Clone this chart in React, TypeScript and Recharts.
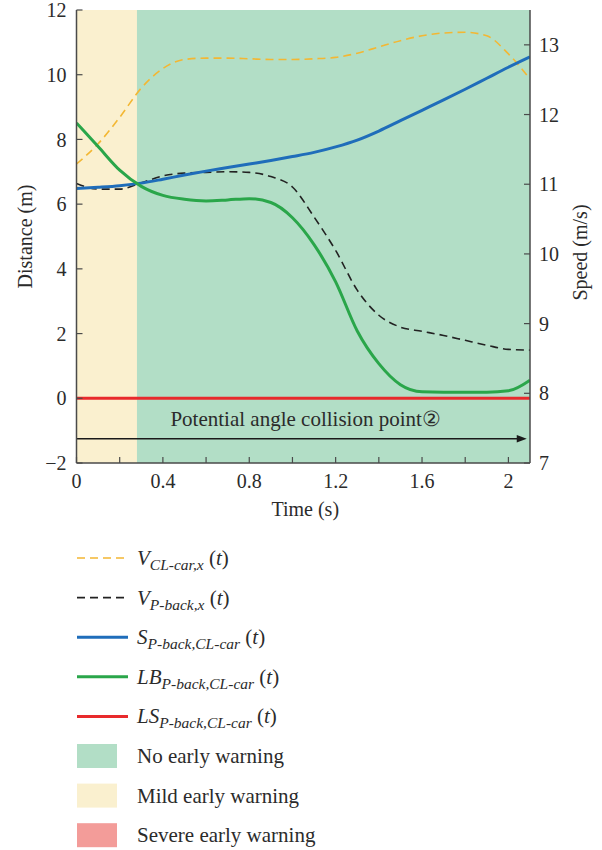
import React from 'react';
import { ComposedChart, Line, XAxis, YAxis, ReferenceArea, ReferenceLine } from 'recharts';

// ---- data ----
const times = [0, 0.1, 0.2, 0.3, 0.4, 0.5, 0.6, 0.7, 0.8, 0.9, 1.0, 1.1, 1.2, 1.3, 1.4, 1.5, 1.6, 1.7, 1.8, 1.9, 2.0, 2.1];
// speeds (m/s), right axis
const vClCar = [11.29, 11.58, 11.96, 12.38, 12.66, 12.79, 12.81, 12.81, 12.8, 12.79, 12.79, 12.8, 12.82, 12.88, 12.97, 13.06, 13.13, 13.17, 13.18, 13.13, 12.87, 12.51];
const vPBack = [11.01, 10.93, 10.93, 11.02, 11.12, 11.16, 11.17, 11.18, 11.17, 11.11, 10.96, 10.53, 10.05, 9.48, 9.12, 8.95, 8.89, 8.83, 8.76, 8.69, 8.63, 8.62];
// distances (m), left axis
const sDist = [6.48, 6.52, 6.57, 6.65, 6.77, 6.9, 7.02, 7.13, 7.24, 7.35, 7.47, 7.6, 7.77, 7.98, 8.26, 8.58, 8.9, 9.22, 9.55, 9.89, 10.23, 10.55];
const lbDist = [8.51, 7.78, 7.05, 6.55, 6.27, 6.15, 6.1, 6.13, 6.17, 6.05, 5.58, 4.75, 3.6, 2.08, 1.07, 0.42, 0.2, 0.19, 0.19, 0.19, 0.23, 0.56];
const lsDist = [0, 0, 0, 0, 0, 0, 0, 0, 0, 0, 0, 0, 0, 0, 0, 0, 0, 0, 0, 0, 0, 0];

const xTicks = [0, 0.2, 0.4, 0.6, 0.8, 1.0, 1.2, 1.4, 1.6, 1.8, 2.0];
const xLabeledTicks = [0, 0.4, 0.8, 1.2, 1.6, 2];
const distTicks = [-2, 0, 2, 4, 6, 8, 10, 12];
const speedTicks = [7, 8, 9, 10, 11, 12, 13];
const timeDomain = [0, 2.1];
const distDomain = [-2, 12];
const speedDomain = [7, 13.5];
const mildStart = 0;
const mildEnd = 0.28;
const arrowLevel = -1.25;
const arrowEnd = 2.085;
const annotationText = 'Potential angle collision point\u2461';

const data = times.map((t, i) => ({
  t,
  vCl: vClCar[i],
  vPb: vPBack[i],
  s: sDist[i],
  lb: lbDist[i],
  ls: lsDist[i],
}));

const FONT = '"Liberation Serif", "DejaVu Serif", serif';
const AXIS_COLOR = '#4a4a4a';
const TEXT_COLOR = '#2b2b2b';

const C_YELLOW = '#F3B733';
const C_BLACK = '#222222';
const C_BLUE = '#1F6DBA';
const C_GREEN = '#2AA64A';
const C_RED = '#E82A2C';
const C_AREA_GREEN = '#B2DEC6';
const C_AREA_YELLOW = '#FAF0CF';
const C_AREA_RED = '#F39C99';

const legendLines = [
  { color: C_YELLOW, dash: '8 5', main: 'V', sub: 'CL-car,x', width: 1.6 },
  { color: C_BLACK, dash: '8 5', main: 'V', sub: 'P-back,x', width: 1.6 },
  { color: C_BLUE, dash: undefined, main: 'S', sub: 'P-back,CL-car', width: 3 },
  { color: C_GREEN, dash: undefined, main: 'LB', sub: 'P-back,CL-car', width: 3 },
  { color: C_RED, dash: undefined, main: 'LS', sub: 'P-back,CL-car', width: 3 },
];
const legendAreas = [
  { color: C_AREA_GREEN, label: 'No early warning' },
  { color: C_AREA_YELLOW, label: 'Mild early warning' },
  { color: C_AREA_RED, label: 'Severe early warning' },
];

const tickStyle = { fill: TEXT_COLOR, fontSize: 20, fontFamily: FONT };

const AnnotationArrow = (props: any) => {
  const { x1, y1, x2, y2 } = props;
  if (x1 == null) return null;
  const head = 10;
  return (
    <g>
      <line x1={x1} y1={y1} x2={x2 - head + 1} y2={y2} stroke="#1a1a1a" strokeWidth={1.3} />
      <polygon points={`${x2},${y2} ${x2 - head},${y2 - 3.8} ${x2 - head},${y2 + 3.8}`} fill="#1a1a1a" />
      <text x={(x1 + x2) / 2 + 4} y={y1 - 12.5} textAnchor="middle" fontFamily={FONT} fontSize={21} fill={TEXT_COLOR}>
        {annotationText}
      </text>
    </g>
  );
};

const fmtX = (v: number) => {
  const r = Math.round(v * 10) / 10;
  return xLabeledTicks.some((k) => Math.abs(k - r) < 1e-6) ? String(r) : '';
};

const Legend = () => {
  const rowStart = 558;
  const rowGap = 39.6;
  return (
    <svg width={602} height={850} style={{ position: 'absolute', left: 0, top: 0, pointerEvents: 'none' }}>
      {legendLines.map((it, i) => {
        const cy = rowStart + i * rowGap;
        return (
          <g key={'l' + i}>
            <line x1={77} x2={it.dash ? 125 : 128} y1={cy} y2={cy} stroke={it.color} strokeWidth={it.width} strokeDasharray={it.dash} />
            <text x={137} y={cy + 7} fontFamily={FONT} fontSize={21} fill={TEXT_COLOR}>
              <tspan fontStyle="italic">{it.main}</tspan>
              <tspan fontStyle="italic" fontSize={15.5} dy={5}>{it.sub}</tspan>
              <tspan dy={-5}>{' ('}</tspan>
              <tspan fontStyle="italic">t</tspan>
              <tspan>)</tspan>
            </text>
          </g>
        );
      })}
      {legendAreas.map((it, i) => {
        const cy = rowStart + (legendLines.length + i) * rowGap;
        return (
          <g key={'a' + i}>
            <rect x={77} y={cy - 12} width={40} height={24} fill={it.color} />
            <text x={137} y={cy + 7} fontFamily={FONT} fontSize={21} fill={TEXT_COLOR}>{it.label}</text>
          </g>
        );
      })}
    </svg>
  );
};

export default function App() {
  return (
    <div style={{ position: 'absolute', left: 0, top: 0, width: 602, height: 850, background: '#fff' }}>
      <ComposedChart width={602} height={530} data={data} margin={{ top: 10, right: 0, bottom: 0, left: 0 }}>
        <ReferenceArea x1={mildStart} x2={mildEnd} yAxisId="left" fill={C_AREA_YELLOW} fillOpacity={1} stroke="none" ifOverflow="hidden" />
        <ReferenceArea x1={mildEnd} x2={timeDomain[1]} yAxisId="left" fill={C_AREA_GREEN} fillOpacity={1} stroke="none" ifOverflow="hidden" />
        <XAxis
          dataKey="t"
          type="number"
          domain={timeDomain}
          ticks={xTicks}
          tickFormatter={fmtX}
          interval={0}
          allowDataOverflow
          height={67}
          tickSize={-6}
          tickMargin={17}
          tick={tickStyle}
          axisLine={{ stroke: AXIS_COLOR, strokeWidth: 1.5 }}
          tickLine={{ stroke: AXIS_COLOR, strokeWidth: 1.2 }}
          label={{
            content: (p: any) => {
              const vb = p.viewBox || { x: 76.5, y: 463, width: 453.5 };
              return (
                <text x={vb.x + vb.width / 2 + 2} y={vb.y + 53} textAnchor="middle" fontFamily={FONT} fontSize={20} fill={TEXT_COLOR}>
                  Time (s)
                </text>
              );
            },
          }}
        />
        <XAxis
          xAxisId="top"
          orientation="top"
          dataKey="t"
          type="number"
          domain={timeDomain}
          ticks={xTicks}
          tickFormatter={() => ''}
          interval={0}
          allowDataOverflow
          height={0}
          tickSize={-6}
          axisLine={{ stroke: AXIS_COLOR, strokeWidth: 1.5 }}
          tickLine={{ stroke: AXIS_COLOR, strokeWidth: 1.2 }}
        />
        <YAxis
          yAxisId="left"
          type="number"
          domain={distDomain}
          ticks={distTicks}
          interval={0}
          allowDataOverflow
          width={76.5}
          tickSize={-6}
          tickMargin={16}
          tick={tickStyle}
          tickFormatter={(v: number) => (v < 0 ? '\u2212' + Math.abs(v) : String(v))}
          axisLine={{ stroke: AXIS_COLOR, strokeWidth: 1.5 }}
          tickLine={{ stroke: AXIS_COLOR, strokeWidth: 1.2 }}
          label={{
            content: (p: any) => {
              const vb = p.viewBox || { x: 0, y: 10, width: 76.5, height: 453 };
              const cx = vb.x + 25;
              const cy = vb.y + vb.height / 2;
              return (
                <text x={cx} y={cy} transform={`rotate(-90 ${cx} ${cy})`} textAnchor="middle" dominantBaseline="central" fontFamily={FONT} fontSize={20} fill={TEXT_COLOR}>
                  Distance (m)
                </text>
              );
            },
          }}
        />
        <YAxis
          yAxisId="right"
          orientation="right"
          type="number"
          domain={speedDomain}
          ticks={speedTicks}
          interval={0}
          allowDataOverflow
          width={72}
          tickSize={-6}
          tickMargin={15}
          tick={tickStyle}
          axisLine={{ stroke: AXIS_COLOR, strokeWidth: 1.5 }}
          tickLine={{ stroke: AXIS_COLOR, strokeWidth: 1.2 }}
          label={{
            content: (p: any) => {
              const vb = p.viewBox || { x: 530, y: 10, width: 72, height: 453 };
              const cx = vb.x + 50;
              const cy = vb.y + vb.height / 2 + 16;
              return (
                <text x={cx} y={cy} transform={`rotate(-90 ${cx} ${cy})`} textAnchor="middle" dominantBaseline="central" fontFamily={FONT} fontSize={20} fill={TEXT_COLOR}>
                  Speed (m/s)
                </text>
              );
            },
          }}
        />
        <ReferenceLine
          yAxisId="left"
          segment={[{ x: 0, y: arrowLevel }, { x: arrowEnd, y: arrowLevel }]}
          shape={AnnotationArrow}
          ifOverflow="visible"
        />
        <Line yAxisId="right" dataKey="vCl" type="monotone" stroke={C_YELLOW} strokeWidth={1.6} strokeDasharray="8 5" dot={false} activeDot={false} isAnimationActive={false} />
        <Line yAxisId="right" dataKey="vPb" type="monotone" stroke={C_BLACK} strokeWidth={1.6} strokeDasharray="8 5" dot={false} activeDot={false} isAnimationActive={false} />
        <Line yAxisId="left" dataKey="s" type="monotone" stroke={C_BLUE} strokeWidth={3} dot={false} activeDot={false} isAnimationActive={false} />
        <Line yAxisId="left" dataKey="lb" type="monotone" stroke={C_GREEN} strokeWidth={3} dot={false} activeDot={false} isAnimationActive={false} />
        <Line yAxisId="left" dataKey="ls" type="linear" stroke={C_RED} strokeWidth={3} dot={false} activeDot={false} isAnimationActive={false} />
      </ComposedChart>
      <Legend />
    </div>
  );
}
